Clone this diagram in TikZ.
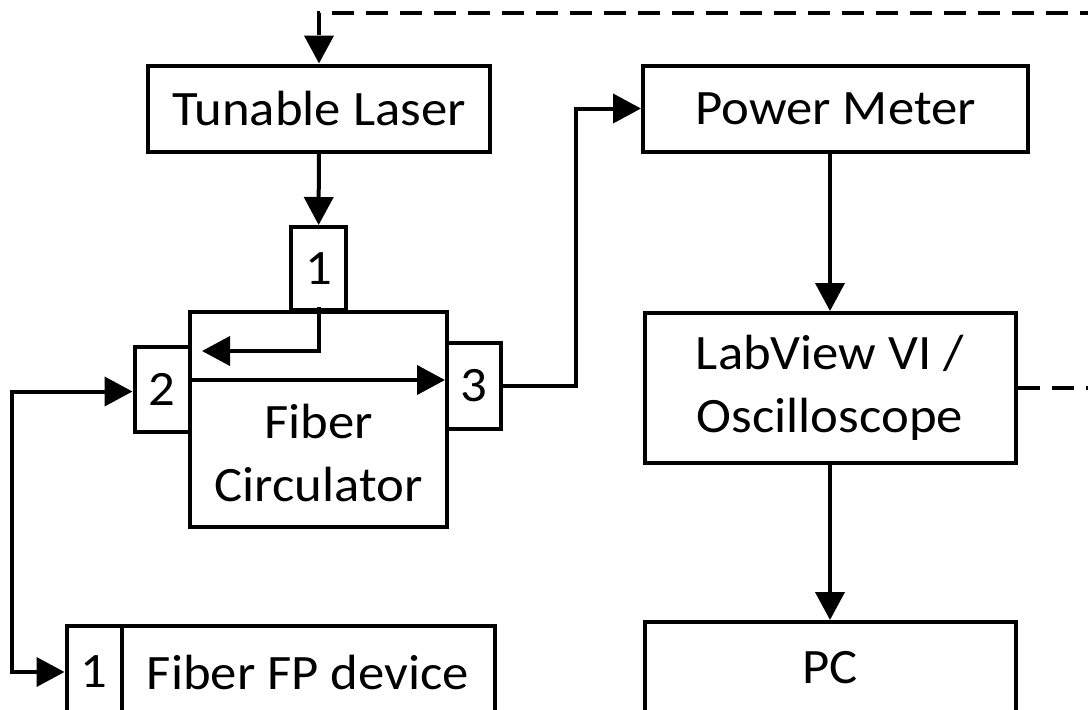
\documentclass[tikz,border=0pt]{standalone}
\usepackage{fontspec}
\setmainfont[FakeStretch=1.065]{Carlito}
\usetikzlibrary{arrows.meta, positioning, calc}

\tikzset{
  blk/.style={draw, line width=4pt, inner sep=0pt, align=center,
    font=\fontsize{49.5}{63}\selectfont},
  lbl/.style={inner sep=0pt, align=center, font=\fontsize{49.5}{63}\selectfont},
  flow/.style={line width=4pt, -{Triangle[length=28pt,width=29pt]}},
  flowboth/.style={line width=4pt,
    {Triangle[length=28pt,width=29pt]}-{Triangle[length=28pt,width=29pt]}},
  fback/.style={flow, dash pattern=on 22pt off 12pt},
}

\begin{document}
\begin{tikzpicture}[x=1pt,y=-1pt]
\useasboundingbox (0,0) rectangle (1088,710);
\clip (0,0) rectangle (1088,710);

% Optical side
\node[blk, minimum width=342pt, minimum height=86pt] (laser) at (319,108.5) {Tunable Laser};
\node[blk, minimum width=257pt, minimum height=215pt] (circ) at (318.5,419.5) {};
\node[lbl] (circlbl) at (318.5,453) {Fiber\\Circulator};
\node[blk, minimum width=55pt, minimum height=83pt] (p1) at (318.5,268.5) {1};
\node[blk, minimum width=55pt, minimum height=85pt] (p2) at (162,389.5) {2};
\node[blk, minimum width=54pt, minimum height=86pt] (p3) at (474,386) {3};
\node[blk, minimum width=55pt, minimum height=92pt] (fpport) at (94,672) {1};
\node[blk, minimum width=373pt, minimum height=92pt] (fp) at (308,672) {Fiber FP device};

% Detection side
\node[blk, minimum width=385pt, minimum height=86pt] (pm) at (835.5,108.5) {Power Meter};
\node[blk, minimum width=371pt, minimum height=150pt] (lab) at (830,388) {LabView VI /\\Oscilloscope};
\node[blk, minimum width=371pt, minimum height=92pt] (pc) at (830,668) {PC};

\coordinate (ret) at (202,351);
\coordinate (fbc) at (1110,13);

% Light path
\draw[flow] (laser) -- (p1);
\draw[flow] ([yshift=5pt]p1.south) |- (ret);
\draw[flow] ([yshift=9.5pt]p2.east) -- ([yshift=9.5pt]p2.east -| p3.west);
\draw[flow] (p3.east) -- ++(72.5,0) |- (pm.west);
\draw[flowboth] ([yshift=-2pt]p2.west) -- ++(-120.5,0) |- (fpport.west);

% Signal path
\draw[flow] (pm.south -| lab.north) -- (lab.north);
\draw[flow] (lab) -- (pc);
\draw[fback] (lab.east) -| (fbc) -| (laser.north);
\end{tikzpicture}
\end{document}
